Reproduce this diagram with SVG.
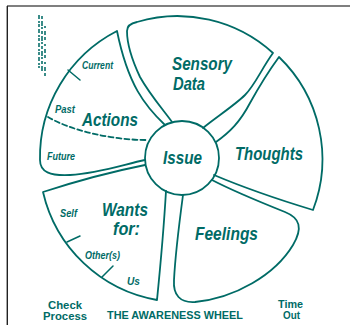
<svg xmlns="http://www.w3.org/2000/svg" width="350" height="325" viewBox="0 0 350 325">
<style>
.o{fill:none;stroke:#006b66;stroke-width:1.8;stroke-linecap:round;stroke-linejoin:round}
.t{fill:none;stroke:#006b66;stroke-width:1.5;stroke-linecap:round}
.big{font-family:"Liberation Sans",Arial,sans-serif;font-weight:bold;font-style:italic;font-size:19px;fill:#006b66}
.sm{font-family:"Liberation Sans",Arial,sans-serif;font-weight:bold;font-style:italic;font-size:10px;fill:#006b66}
.ft{font-family:"Liberation Sans",Arial,sans-serif;font-weight:bold;font-size:11px;fill:#006b66}
</style>
<rect x="0" y="0" width="350" height="325" fill="#ffffff"/>
<g id="frame">
<line x1="7" y1="6" x2="350" y2="6" stroke="#555" stroke-width="1.4"/>
<line x1="7.3" y1="6" x2="7.3" y2="325" stroke="#222" stroke-width="1.4"/>
</g>
<g id="marks" stroke="#006b66" stroke-width="1.8" fill="none" opacity="0.85">
<line x1="39" y1="15" x2="39" y2="68" stroke-dasharray="4 2 2 1 3 2"/>
<line x1="42" y1="16" x2="42" y2="72" stroke-dasharray="3 2 5 1 2 2"/>
<line x1="45" y1="26" x2="45" y2="78" stroke-dasharray="2 3 4 2 3 4"/>
</g>
<g id="issue">
<circle cx="182" cy="158" r="37" class="o"/>
<text class="big" x="163" y="164" textLength="39" lengthAdjust="spacingAndGlyphs">Issue</text>
</g>
<g id="actions">
<path class="o" d="M165,125 C145,106 128,85 117,31 A142,142 0 0 0 40,160 C40,172 50,176 70,175 C100,173 125,164 145,160"/>
<path class="o" d="M48,117 C70,130 110,140 147,140" stroke-dasharray="5 3"/>
<path class="t" d="M68,70 L80,80"/>
<text class="big" x="82" y="126" textLength="56" lengthAdjust="spacingAndGlyphs">Actions</text>
<text class="sm" x="82" y="69" textLength="31" lengthAdjust="spacingAndGlyphs">Current</text>
<text class="sm" x="55" y="113" textLength="20" lengthAdjust="spacingAndGlyphs">Past</text>
<text class="sm" x="47" y="160" textLength="28" lengthAdjust="spacingAndGlyphs">Future</text>
</g>
<g id="sensory">
<path class="o" d="M172,122 C165,112 150,95 140,77 C132,60 127,45 127,31 Q127,24 137,22 A142,142 0 0 1 273,53 C262,68 255,85 245,95 C235,105 215,118 203,128"/>
<text class="big" x="172" y="70" font-size="17" style="font-size:17.5px" textLength="60" lengthAdjust="spacingAndGlyphs">Sensory</text>
<text class="big" x="173" y="90" style="font-size:17.5px" textLength="32" lengthAdjust="spacingAndGlyphs">Data</text>
</g>
<g id="thoughts">
<path class="o" d="M216,142 C230,132 240,122 250,103 C260,85 268,72 279,57 A142,142 0 0 1 313,210 C280,200 240,186 214,175"/>
<text class="big" x="235" y="160" textLength="68" lengthAdjust="spacingAndGlyphs">Thoughts</text>
</g>
<g id="feelings">
<path class="o" d="M183,195 C179,225 175,260 174,280 C173,295 180,303 195,302 C235,298 275,275 293,245 C303,228 300,218 285,212 C260,202 235,192 212,180"/>
<text class="big" x="195" y="240" textLength="63" lengthAdjust="spacingAndGlyphs">Feelings</text>
</g>
<g id="wants">
<path class="o" d="M145,165 C120,170 80,180 43,192 A142,142 0 0 0 157,300 C160,270 164,225 166,191"/>
<path class="t" d="M67,242 L80,236"/>
<path class="t" d="M102,277 L113,266"/>
<text class="big" x="102" y="216" textLength="46" lengthAdjust="spacingAndGlyphs">Wants</text>
<text class="big" x="113" y="235" textLength="27" lengthAdjust="spacingAndGlyphs">for:</text>
<text class="sm" x="60" y="217" textLength="17" lengthAdjust="spacingAndGlyphs">Self</text>
<text class="sm" x="85" y="259" textLength="35" lengthAdjust="spacingAndGlyphs">Other(s)</text>
<text class="sm" x="127" y="285" textLength="13" lengthAdjust="spacingAndGlyphs">Us</text>
</g>
<g id="captions">
<text class="ft" x="48" y="309" textLength="34" lengthAdjust="spacingAndGlyphs">Check</text>
<text class="ft" x="43" y="320" textLength="44" lengthAdjust="spacingAndGlyphs">Process</text>
<text class="ft" x="107" y="319" textLength="136" lengthAdjust="spacingAndGlyphs">THE AWARENESS WHEEL</text>
<text class="ft" x="278" y="308" textLength="25" lengthAdjust="spacingAndGlyphs">Time</text>
<text class="ft" x="283" y="319" textLength="17" lengthAdjust="spacingAndGlyphs">Out</text>
</g>
</svg>
